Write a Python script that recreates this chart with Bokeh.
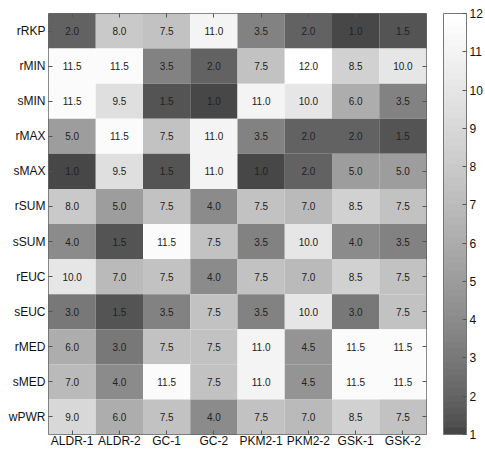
from bokeh.plotting import figure
from bokeh.models import (LinearColorMapper, ColorBar, FixedTicker, ColumnDataSource,
                          CategoricalAxis, FactorRange, CustomLabelingPolicy)
from bokeh.embed import file_html
from bokeh.resources import INLINE
from bokeh.core.properties import value

targets = ["ALDR-1", "ALDR-2", "GC-1", "GC-2", "PKM2-1", "PKM2-2", "GSK-1", "GSK-2"]
methods = ["rRKP", "rMIN", "sMIN", "rMAX", "sMAX", "rSUM", "sSUM", "rEUC", "sEUC", "rMED", "sMED", "wPWR"]

rRKP = [2.0, 8.0, 7.5, 11.0, 3.5, 2.0, 1.0, 1.5]
rMIN = [11.5, 11.5, 3.5, 2.0, 7.5, 12.0, 8.5, 10.0]
sMIN = [11.5, 9.5, 1.5, 1.0, 11.0, 10.0, 6.0, 3.5]
rMAX = [5.0, 11.5, 7.5, 11.0, 3.5, 2.0, 2.0, 1.5]
sMAX = [1.0, 9.5, 1.5, 11.0, 1.0, 2.0, 5.0, 5.0]
rSUM = [8.0, 5.0, 7.5, 4.0, 7.5, 7.0, 8.5, 7.5]
sSUM = [4.0, 1.5, 11.5, 7.5, 3.5, 10.0, 4.0, 3.5]
rEUC = [10.0, 7.0, 7.5, 4.0, 7.5, 7.0, 8.5, 7.5]
sEUC = [3.0, 1.5, 3.5, 7.5, 3.5, 10.0, 3.0, 7.5]
rMED = [6.0, 3.0, 7.5, 7.5, 11.0, 4.5, 11.5, 11.5]
sMED = [7.0, 4.0, 11.5, 7.5, 11.0, 4.5, 11.5, 11.5]
wPWR = [9.0, 6.0, 7.5, 4.0, 7.5, 7.0, 8.5, 7.5]

rows = [rRKP, rMIN, sMIN, rMAX, sMAX, rSUM, sSUM, rEUC, sEUC, rMED, sMED, wPWR]
cbar_ticks = list(range(1, 13))

xs, ys, vs, labels = [], [], [], []
for m, row in zip(methods, rows):
    for t, v in zip(targets, row):
        xs.append(t)
        ys.append(m)
        vs.append(v)
        labels.append(f"{v:.1f}")
src = ColumnDataSource(dict(x=xs, y=ys, v=vs, label=labels))

# gray palette (dark gray -> white), 64 levels like a MATLAB colormap
palette = []
n = 64
for i in range(n):
    t = i / (n - 1)
    g = int(round(71 + 184 * t ** 0.76))
    palette.append("#%02x%02x%02x" % (g, g, g))
mapper = LinearColorMapper(palette=palette, low=1, high=12)

FONT = "Liberation Sans"

p = figure(width=485, height=450, x_range=FactorRange(*targets),
           y_range=FactorRange(*reversed(methods)),
           output_backend="svg", toolbar_location=None,
           min_border_left=48, min_border_top=13, min_border_right=0, min_border_bottom=0)
p.grid.visible = False
p.outline_line_color = "#666666"
p.outline_line_width = 1

p.rect(x="x", y="y", width=1, height=1, source=src,
       fill_color={"field": "v", "transform": mapper}, line_color=None)
p.text(x="x", y="y", text="label", source=src, text_align="center",
       text_baseline="middle", text_font=value(FONT), text_font_size="10px",
       text_color="#222222")

for ax in (p.xaxis[0], p.yaxis[0]):
    ax.axis_line_color = None
    ax.major_tick_line_color = "#555555"
    ax.major_label_text_font = FONT
    ax.major_label_text_font_size = "12px"
    ax.major_label_text_color = "#111111"
    ax.minor_tick_line_color = None
p.xaxis[0].major_tick_in = 4
p.xaxis[0].major_tick_out = 0
p.xaxis[0].major_label_standoff = -1
p.yaxis[0].major_tick_in = 4
p.yaxis[0].major_tick_out = 0
p.yaxis[0].major_label_standoff = 3

hide = "return new Set()"
top = CategoricalAxis(major_label_text_font_size="0px", major_tick_in=4, major_tick_out=0,
                      axis_line_color=None, major_tick_line_color="#555555",
                      major_label_standoff=0,
                      major_label_policy=CustomLabelingPolicy(code=hide))
right = CategoricalAxis(major_label_text_font_size="0px", major_tick_in=4, major_tick_out=0,
                        axis_line_color=None, major_tick_line_color="#555555",
                        major_label_standoff=0,
                        major_label_policy=CustomLabelingPolicy(code=hide))
p.add_layout(top, "above")
p.add_layout(right, "right")

# transparent spacer between the heatmap frame and the colour bar
spacer = ColorBar(color_mapper=mapper, ticker=FixedTicker(ticks=[]), width=17,
                  padding=0, scale_alpha=0, bar_line_color=None,
                  major_tick_line_color=None, minor_tick_line_color=None,
                  background_fill_alpha=0, border_line_color=None)
p.add_layout(spacer, "right")

cb = ColorBar(color_mapper=mapper, ticker=FixedTicker(ticks=cbar_ticks), width=23,
              padding=0, major_tick_in=4, major_tick_out=0,
              major_tick_line_color="#555555", bar_line_color="#777777",
              major_label_text_font=FONT, major_label_text_font_size="12px",
              major_label_text_color="#111111", label_standoff=3,
              background_fill_alpha=0, border_line_color=None)
p.add_layout(cb, "right")

open("out.html", "w").write(file_html(p, INLINE))
